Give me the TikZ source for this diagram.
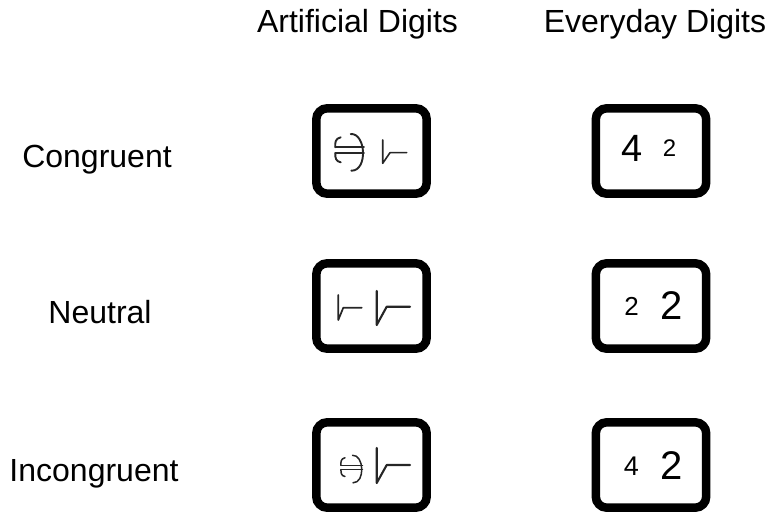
\documentclass[tikz,border=0pt]{standalone}
\usepackage{fontspec}
\setmainfont{Liberation Sans}
\begin{document}
\begin{tikzpicture}[x=1pt,y=-1pt,
  lbl/.style={anchor=base,inner sep=0pt,font=\fontsize{32}{38}\selectfont},
  card/.style={draw=black,line width=8.5pt,rounded corners=11pt,minimum width=110.4pt,minimum height=85.4pt,inner sep=0pt},
  glyph/.style={draw=black!85,line width=1.9pt,line join=round,line cap=round},
  dig/.style={anchor=base,inner sep=0pt}]
\useasboundingbox (0,0) rectangle (774,513);
% headers
\node[lbl] (hA) at (357.5,33) {Artificial Digits};
\node[lbl] (hE) at (655,33) {Everyday Digits};
% row labels
\node[lbl] (rC) at (97,168) {Congruent};
\node[lbl] (rN) at (100,323) {Neutral};
\node[lbl] (rI) at (94,481) {Incongruent};
% cards
\node[card] (a1) at (371.5,151) {};
\node[card] (a2) at (371.5,306) {};
\node[card] (a3) at (371.5,465) {};
\node[card] (e1) at (651,151) {};
\node[card] (e2) at (651,306) {};
\node[card] (e3) at (651,465) {};
% artificial glyphs: row 1
\begin{scope}[shift={(350,152.3)}]
  \draw[glyph] (0.7,-18.3) .. controls (16,-19.3) and (18,18.7) .. (1.3,18.4);
  \draw[glyph] (-9.3,-15) .. controls (-15,-13.8) and (-15,-9.3) .. (-14.7,-5);
  \draw[glyph] (-14.7,0.7) .. controls (-15,5.7) and (-14,9.2) .. (-9.3,10);
  \draw[glyph] (-14.7,-5) -- (14,-5);
  \draw[glyph] (-14.7,0.7) -- (14,0.7);
\end{scope}
\draw[glyph,line width=1.6pt] (382.7,140) -- (382.7,163.3) -- (390,152.7) -- (406.7,152.7);
% row 2
\draw[glyph,line width=1.7pt] (338.3,295) -- (338.3,320) -- (343.3,307.7) -- (361.7,307.7);
\draw[glyph,line width=2.1pt] (376.7,291) -- (376.7,325) -- (386.7,306.7) -- (410,306.7);
% row 3
\begin{scope}[shift={(352,469)},scale=0.75]
  \draw[glyph,line width=1.5pt] (0.7,-18.3) .. controls (16,-19.3) and (18,18.7) .. (1.3,18.4);
  \draw[glyph,line width=1.5pt] (-9.3,-15) .. controls (-15,-13.8) and (-15,-9.3) .. (-14.7,-5);
  \draw[glyph,line width=1.5pt] (-14.7,0.7) .. controls (-15,5.7) and (-14,9.2) .. (-9.3,10);
  \draw[glyph,line width=1.5pt] (-14.7,-5) -- (14,-5);
  \draw[glyph,line width=1.5pt] (-14.7,0.7) -- (14,0.7);
\end{scope}
\draw[glyph,line width=2.1pt] (376.7,448) -- (376.7,483) -- (386.7,465) -- (410,465);
% everyday digits
\node[dig,font=\fontsize{38}{40}\selectfont] (d11) at (632.5,162) {4};
\node[dig,font=\fontsize{24}{26}\selectfont] (d12) at (669.5,157) {2};
\node[dig,font=\fontsize{26}{28}\selectfont] (d21) at (631.5,316) {2};
\node[dig,font=\fontsize{40}{42}\selectfont] (d22) at (671.5,319) {2};
\node[dig,font=\fontsize{27}{29}\selectfont] (d31) at (631.5,475) {4};
\node[dig,font=\fontsize{40}{42}\selectfont] (d32) at (671.5,479) {2};
\end{tikzpicture}
\end{document}
